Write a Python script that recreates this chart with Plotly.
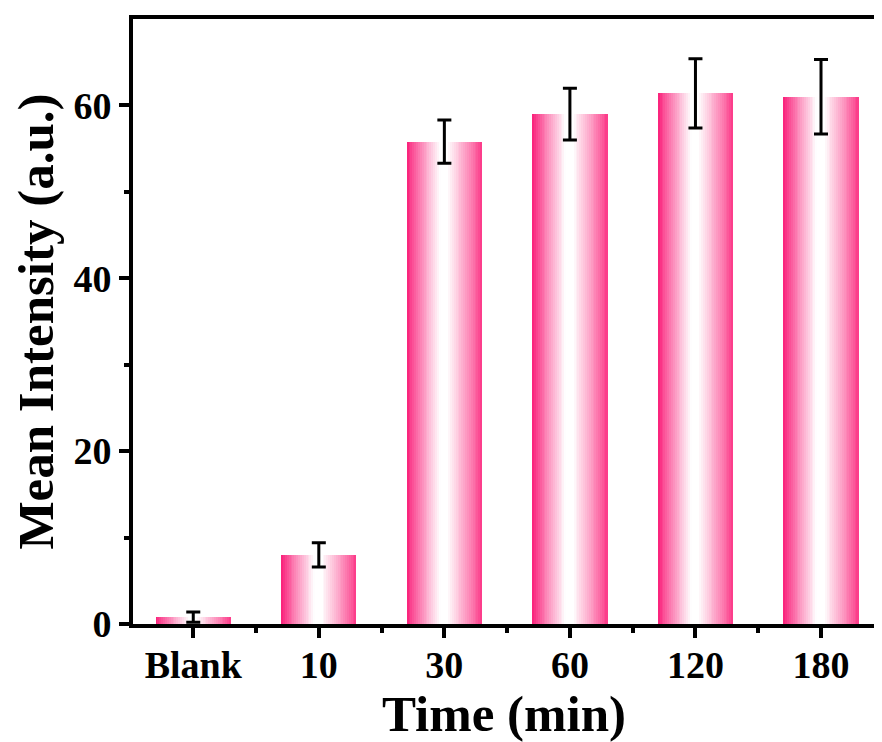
import plotly.graph_objects as go
import numpy as np

categories = ["Blank", "10", "30", "60", "120", "180"]
mean_intensity = [0.8, 8.0, 55.8, 59.0, 61.4, 61.0]
error_sd = [0.6, 1.4, 2.5, 3.0, 4.0, 4.3]

x_idx = list(range(len(categories)))
bar_w = 0.6
n_strips = 40

def strip_color(t):
    # t in [0,1] across bar width; pink edges, white centre
    left = np.array([250, 28, 120])
    right = np.array([252, 55, 135])
    white = np.array([255, 255, 255])
    c0, c1 = 0.44, 0.54
    if t < c0:
        f = (t / c0) ** 0.9
        c = left + (white - left) * f
    elif t <= c1:
        c = white
    else:
        f = ((1 - t) / (1 - c1)) ** 0.9
        c = right + (white - right) * f
    c = np.clip(c, 0, 255).astype(int)
    return f"rgb({c[0]},{c[1]},{c[2]})"

fig = go.Figure()
step = bar_w / n_strips
for i in range(n_strips):
    t = (i + 0.5) / n_strips
    fig.add_trace(go.Bar(
        x=x_idx, y=mean_intensity,
        width=step * 1.15 if i < n_strips - 1 else step,
        offset=-bar_w / 2 + i * step,
        marker=dict(color=strip_color(t), line=dict(width=0)),
        showlegend=False, hoverinfo="skip",
    ))

fig.add_trace(go.Scatter(
    x=x_idx, y=mean_intensity, mode="markers",
    marker=dict(size=0.1, color="rgba(0,0,0,0)"),
    error_y=dict(type="data", array=error_sd, visible=True,
                 color="black", thickness=3, width=7),
    showlegend=False, hoverinfo="skip",
))

font_family = "Liberation Serif"
fig.update_layout(
    width=874, height=734,
    margin=dict(l=125, r=3, t=11, b=118),
    plot_bgcolor="white", paper_bgcolor="white",
    barmode="overlay", bargap=0,
    font=dict(family=font_family, color="black"),
)
fig.update_xaxes(
    range=[-0.48, 5.43],
    tickmode="array", tickvals=x_idx, ticktext=[f"<b>{c}</b>" for c in categories],
    tickfont=dict(size=38, family=font_family),
    ticks="outside", ticklen=10, tickwidth=3.5, tickcolor="black",
    ticklabelstandoff=-6,
    minor=dict(tickmode="array", tickvals=[i + 0.5 for i in range(-1, 6)],
               ticks="outside", ticklen=5, tickwidth=3.5, tickcolor="black"),
    showline=True, linewidth=4, linecolor="black", mirror=True,
    showgrid=False, zeroline=False,
    title=dict(text="<b>Time (min)</b>", font=dict(size=51, family=font_family), standoff=9),
)
fig.update_yaxes(
    range=[0, 70],
    tickmode="array", tickvals=[0, 20, 40, 60], ticktext=["<b>0</b>", "<b>20</b>", "<b>40</b>", "<b>60</b>"],
    tickfont=dict(size=38, family=font_family),
    ticks="outside", ticklen=10, tickwidth=3.5, tickcolor="black",
    minor=dict(tickmode="array", tickvals=[10, 30, 50], ticks="outside",
               ticklen=5, tickwidth=3.5, tickcolor="black"),
    showline=True, linewidth=4, linecolor="black", mirror=True,
    showgrid=False, zeroline=False,
    title=dict(text="<b>Mean Intensity (a.u.)</b>", font=dict(size=51, family=font_family), standoff=19),
)

fig.write_html("out.html")
